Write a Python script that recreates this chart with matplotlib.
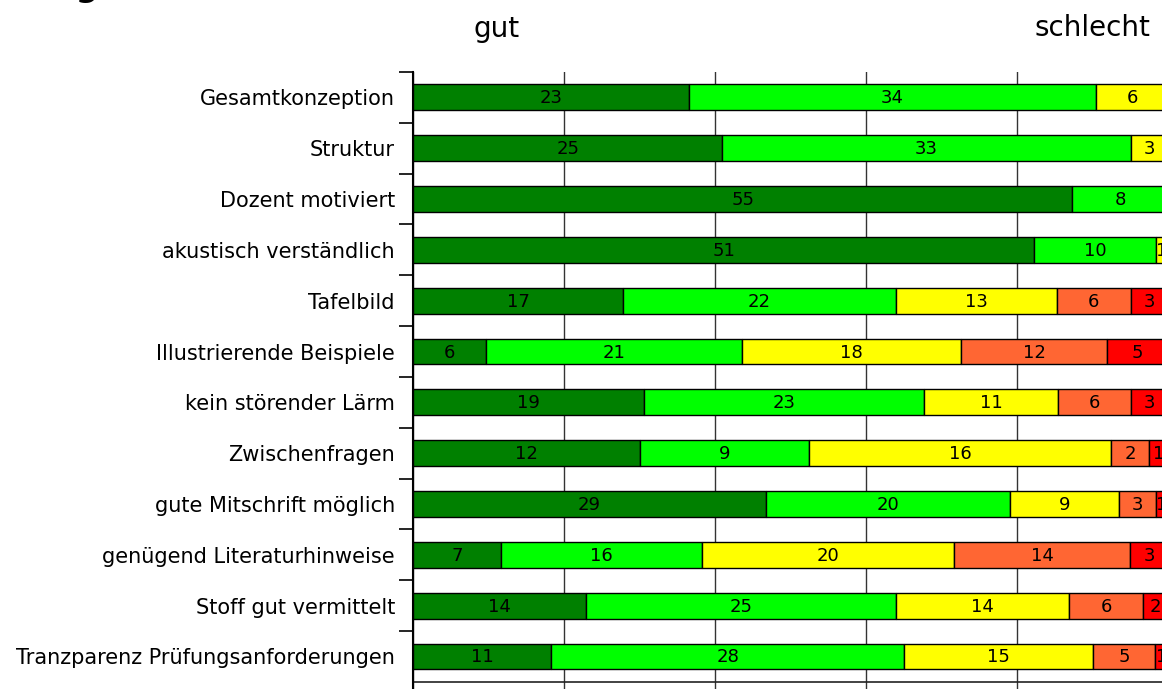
import numpy as np
import matplotlib.pyplot as plt

# categories, top to bottom
categories = ['Gesamtkonzeption', 'Struktur', 'Dozent motiviert',
              'akustisch verständlich', 'Tafelbild', 'Illustrierende Beispiele',
              'kein störender Lärm', 'Zwischenfragen', 'gute Mitschrift möglich',
              'genügend Literaturhinweise', 'Stoff gut vermittelt',
              'Tranzparenz Prüfungsanforderungen']

# answer counts per rating (1 = gut ... 5 = schlecht)
note1 = [23, 25, 55, 51, 17, 6, 19, 12, 29, 7, 14, 11]
note2 = [34, 33, 8, 10, 22, 21, 23, 9, 20, 16, 25, 28]
note3 = [6, 3, 0, 1, 13, 18, 11, 16, 9, 20, 14, 15]
note4 = [0, 0, 0, 0, 6, 12, 6, 2, 3, 14, 6, 5]
note5 = [0, 0, 0, 0, 3, 5, 3, 1, 1, 3, 2, 1]

colors = ['#008000', '#00ff00', '#ffff00', '#ff6633', '#ff0000']

counts = np.array([note1, note2, note3, note4, note5], dtype=float)
totals = counts.sum(axis=0)
percent = counts / totals * 100

fig = plt.figure(figsize=(11.62, 6.89), dpi=100)
ax = fig.add_axes([413/1162, 0, 755/1162, 617/689])

ypos = np.arange(len(categories)) + 0.5
left = np.zeros(len(categories))
for k in range(5):
    ax.barh(ypos, percent[k], left=left, height=0.51, color=colors[k],
            edgecolor='black', linewidth=1.0, zorder=3)
    for i in range(len(categories)):
        if counts[k, i] > 0:
            ax.text(left[i] + percent[k, i] / 2, ypos[i] + 0.02,
                    int(counts[k, i]), ha='center', va='center',
                    fontsize=13, zorder=4)
    left += percent[k]

ax.set_xlim(0, 100)
ax.set_ylim(12.14, 0)
ax.axhline(12, color='#222222', lw=1.2, zorder=2)

# grid
ax.set_xticks([0, 20, 40, 60, 80, 100])
ax.set_xticklabels([])
ax.xaxis.grid(True, color='#333333', lw=1.0, zorder=0)
ax.tick_params(axis='x', length=0)

ax.set_yticks(np.arange(12))
ax.set_yticklabels([])
ax.set_yticks(ypos, minor=True)
ax.set_yticklabels(categories, minor=True, fontsize=15)
ax.tick_params(axis='y', which='major', direction='out', length=10, width=1.2)
ax.tick_params(axis='y', which='minor', length=0, pad=13)

for side in ['top', 'right', 'bottom']:
    ax.spines[side].set_visible(False)
ax.spines['left'].set_linewidth(1.5)

fig.text(30/1162, 1 + 4/689, 'Allgemeines', fontsize=23, fontweight='bold',
         ha='left', va='baseline')
fig.text(497/1162, 1 - 37/689, 'gut', fontsize=20, ha='center', va='baseline')
fig.text(1092/1162, 1 - 36/689, 'schlecht', fontsize=20, ha='center',
         va='baseline')

fig.savefig('out.png', dpi=100)
